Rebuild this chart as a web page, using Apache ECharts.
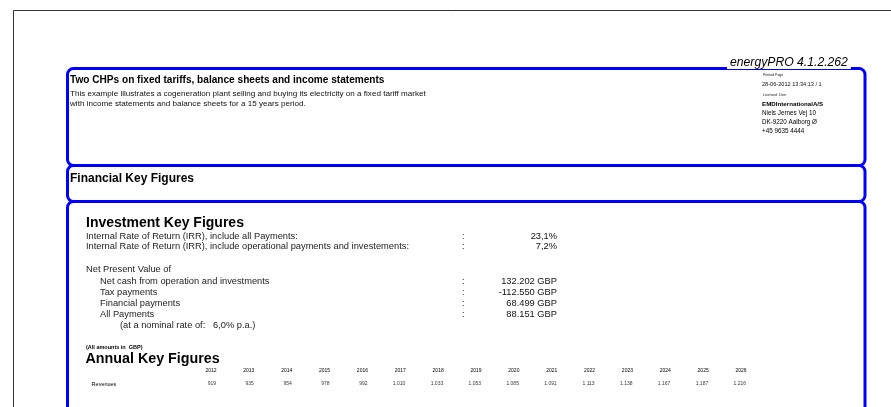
<!DOCTYPE html>
<html>
<head>
<meta charset="utf-8">
<script src="https://cdn.jsdelivr.net/npm/echarts@6/dist/echarts.min.js"></script>
<style>
html,body{margin:0;padding:0;background:#fff;}
#main{width:891px;height:407px;}
</style>
</head>
<body>
<div id="main"></div>
<script>
// ---- data ----
var reportTitle = 'Two CHPs on fixed tariffs, balance sheets and income statements';
var reportDesc = ['This example illustrates a cogeneration plant selling and buying its electricity on a fixed tariff market',
                  'with income statements and balance sheets for a 15 years period.'];
var headerInfo = ['28-06-2012 13:34:13 / 1'];
var licenseLines = ['EMDInternationalA/S', 'Niels Jernes Vej 10', 'DK-9220 Aalborg Ø', '+45 9635 4444'];
var irrLabels = ['Internal Rate of Return (IRR), include all Payments:',
                 'Internal Rate of Return (IRR), include operational payments and investements:'];
var irrValues = ['23,1%', '7,2%'];
var npvLabels = ['Net cash from operation and investments', 'Tax payments', 'Financial payments', 'All Payments'];
var npvValues = [132202, -112550, 68499, 88151];
var nominalRate = '6,0%';
var years = ['2012','2013','2014','2015','2016','2017','2018','2019','2020','2021','2022','2023','2024','2025','2026'];
var rowNames = ['Revenues'];
var revenues = [919, 935, 954, 978, 992, 1010, 1033, 1053, 1085, 1091, 1113, 1138, 1167, 1187, 1216];

// ---- helpers ----
var FF = '"Liberation Sans", Arial, sans-serif';
function fmt(n){
  var s = Math.abs(n).toString().replace(/\B(?=(\d{3})+(?!\d))/g, '.');
  return (n < 0 ? '-' : '') + s;
}
function txt(x, y, text, font, opt){
  opt = opt || {};
  return {type:'text', x:x, y:y, silent:true, z: opt.z || 10,
    style:{text:text, font:font, fill:opt.fill || '#111', align:opt.align || 'left', verticalAlign:'middle',
      backgroundColor: opt.bg, padding: opt.pad}};
}
var BLUE = '#0000ff';
var g = [];
// outer page frame
g.push({type:'polyline', silent:true, shape:{points:[[13.5,407],[13.5,10.5],[891,10.5]]}, style:{stroke:'#333', lineWidth:1, fill:null}});
// blue boxes
g.push({type:'rect', silent:true, shape:{x:67.5,y:68.5,width:797.5,height:97,r:6}, style:{stroke:BLUE,lineWidth:3,fill:null}});
g.push({type:'rect', silent:true, shape:{x:67.5,y:165.5,width:797.5,height:36,r:6}, style:{stroke:BLUE,lineWidth:3,fill:null}});
g.push({type:'rect', silent:true, shape:{x:67.5,y:201.5,width:797.5,height:320,r:6}, style:{stroke:BLUE,lineWidth:3,fill:null}});
// header texts
g.push(txt(727, 63, 'energyPRO 4.1.2.262', 'italic 12.2px ' + FF, {bg:'#fff', pad:[0,3,0,3], z:20, fill:'#000'}));
g.push(txt(763, 75.5, 'Printed Page', '3.5px ' + FF));
g.push(txt(762, 84.5, headerInfo[0], '5.6px ' + FF, {fill:'#111'}));
g.push(txt(763, 95, 'Licensed  User', '3.5px ' + FF));
licenseLines.forEach(function(t, i){
  g.push(txt(762, 104 + i*9, t, (i === 0 ? 'bold 6.2px ' : '6.3px ') + FF, {fill:'#000'}));
});
g.push(txt(70, 80.5, reportTitle, 'bold 10.1px ' + FF, {fill:'#000'}));
reportDesc.forEach(function(t, i){ g.push(txt(70, 93.3 + i*10, t, '8.1px ' + FF, {fill:'#111'})); });
g.push(txt(70, 178.5, 'Financial Key Figures', 'bold 12px ' + FF, {fill:'#000'}));
// investment key figures
g.push(txt(86, 223, 'Investment Key Figures', 'bold 14px ' + FF, {fill:'#000'}));
var rowFont = '9.3px ' + FF;
irrLabels.forEach(function(t, i){
  var y = 236 + i*10.5;
  g.push(txt(86, y, t, rowFont, {fill:'#222'}));
  g.push(txt(462, y, ':', rowFont, {fill:'#222'}));
  g.push(txt(557, y, irrValues[i], rowFont, {fill:'#111', align:'right'}));
});
g.push(txt(86, 269, 'Net Present Value of', rowFont, {fill:'#222'}));
npvLabels.forEach(function(t, i){
  var y = 281 + i*11;
  g.push(txt(100, y, t, rowFont, {fill:'#222'}));
  g.push(txt(462, y, ':', rowFont, {fill:'#222'}));
  g.push(txt(557, y, fmt(npvValues[i]) + ' GBP', rowFont, {fill:'#111', align:'right'}));
});
g.push(txt(120, 325, '(at a nominal rate of:   ' + nominalRate + ' p.a.)', rowFont, {fill:'#222'}));
// annual key figures
g.push(txt(86, 347, '(All amounts in  GBP)', 'bold 5.5px ' + FF, {fill:'#000'}));
g.push(txt(85.5, 359.5, 'Annual Key Figures', 'bold 14.3px ' + FF, {fill:'#000'}));

var chart = echarts.init(document.getElementById('main'), null, {renderer:'canvas'});
chart.setOption({
  backgroundColor:'#fff',
  animation:false,
  grid:{left:197.6, width:567.9, top:376, height:16},
  xAxis:{type:'category', position:'top', data:years,
    axisLine:{show:false}, axisTick:{show:false}, splitLine:{show:false},
    axisLabel:{interval:0, align:'right', margin:3, fontSize:5, fontFamily:FF, color:'#000'}},
  yAxis:{type:'category', data:rowNames, inverse:true,
    axisLine:{show:false}, axisTick:{show:false}, splitLine:{show:false},
    axisLabel:{align:'left', margin:106, fontSize:5.5, fontFamily:FF, color:'#000'}},
  series:[{type:'scatter', symbolSize:1, itemStyle:{color:'rgba(0,0,0,0)'},
    data: years.map(function(y, i){ return [y, rowNames[0], revenues[i]]; }),
    label:{show:true, position:'left', distance:0, fontSize:5, fontFamily:FF, color:'#000',
      formatter:function(p){ return fmt(p.value[2]); }}}],
  graphic:{elements:g}
});
</script>
</body>
</html>
